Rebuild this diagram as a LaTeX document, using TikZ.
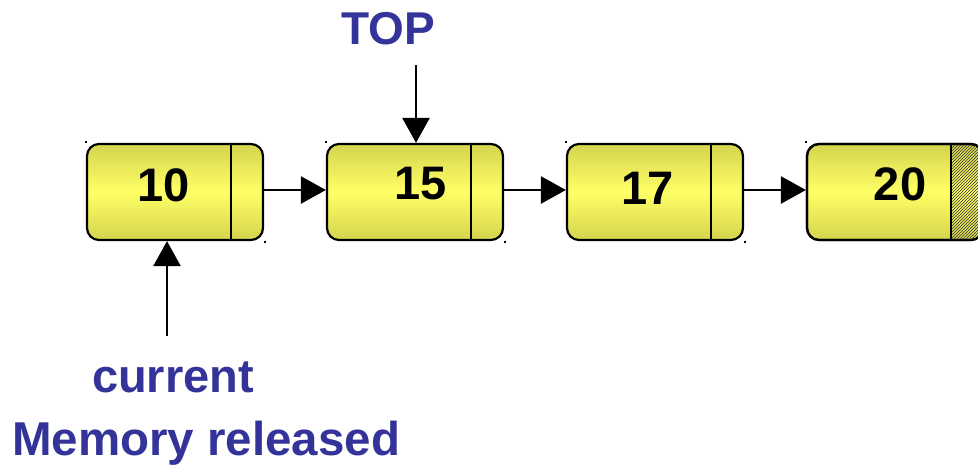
\documentclass[tikz,border=0pt]{standalone}
\usepackage{fontspec}
\setmainfont{Liberation Sans}
\usetikzlibrary{patterns,arrows.meta}
\definecolor{lblue}{HTML}{333399}
\definecolor{ydark}{HTML}{D4D44E}
\definecolor{ylight}{HTML}{FFFF66}
\tikzset{
  cell/.style={draw=black, line width=2.2pt, rounded corners=12pt,
    minimum width=176pt, minimum height=96pt, inner sep=0pt,
    top color=ydark, bottom color=ydark, middle color=ylight},
  num/.style={font=\fontsize{47}{52}\selectfont\bfseries, anchor=base, inner sep=0pt},
  lbl/.style={font=\fontsize{46}{52}\selectfont\bfseries, text=lblue, anchor=base, inner sep=0pt},
  link/.style={line width=2.4pt, -{Triangle[length=25pt,width=27pt]}},
  dot/.style={fill=black, minimum size=2.2pt, inner sep=0pt}
}
\begin{document}
\begin{tikzpicture}[x=1pt,y=-1pt]
\useasboundingbox (0,0) rectangle (978,470);
\fill[white] (0,0) rectangle (978,470);
\begin{scope}
\clip (0,0) rectangle (978,470);
% boxes
\node[cell] (b1) at (175,192) {};
\node[cell] (b2) at (415,192) {};
\node[cell] (b3) at (655,192) {};
\node[cell] (b4) at (895,192) {};
% hatched part of last box
\begin{scope}
\clip[rounded corners=12pt] (807,144) rectangle (983,240);
\fill[pattern=north east lines, pattern color=black!80] (951,144) rectangle (983,240);
\end{scope}
\draw[line width=2.2pt, rounded corners=12pt] (807,144) rectangle (983,240);
% dividers
\draw[line width=1.8pt] (231,144) -- (231,240);
\draw[line width=1.8pt] (471,144) -- (471,240);
\draw[line width=1.8pt] (711,144) -- (711,240);
\draw[line width=1.8pt] (951,144) -- (951,240);
\end{scope}
% numbers
\node[num] (n1) at (164,202) {10};
\node[num] (n2) at (421,200) {15};
\node[num] (n3) at (648,205) {17};
\node[num] (n4) at (900,201) {20};
% corner dots
\node[dot] (d1) at (86,142) {};
\node[dot] (d2) at (265,242) {};
\node[dot] (d3) at (326,142) {};
\node[dot] (d4) at (505,242) {};
\node[dot] (d5) at (566,142) {};
\node[dot] (d6) at (745,242) {};
\node[dot] (d7) at (806,142) {};
% links
\coordinate (o1) at (263,190);
\coordinate (o2) at (503,190);
\coordinate (o3) at (743,190);
\draw[link] (o1) -- (b2.west |- o1);
\draw[link] (o2) -- (b3.west |- o2);
\draw[link] (o3) -- (b4.west |- o3);
% labels
\node[lbl] (top) at (388,45) {TOP};
\node[lbl, font=\fontsize{47}{52}\selectfont\bfseries] (cur) at (173,393) {current};
\node[lbl, font=\fontsize{47.5}{52}\selectfont\bfseries, anchor=base west] (mem) at (12,455) {Memory released};
\coordinate (ts) at (416,65);
\coordinate (cs) at (167,336);
\draw[link] (ts) -- (ts |- b2.north);
\draw[link] (cs) -- (cs |- b1.south);
\end{tikzpicture}
\end{document}
